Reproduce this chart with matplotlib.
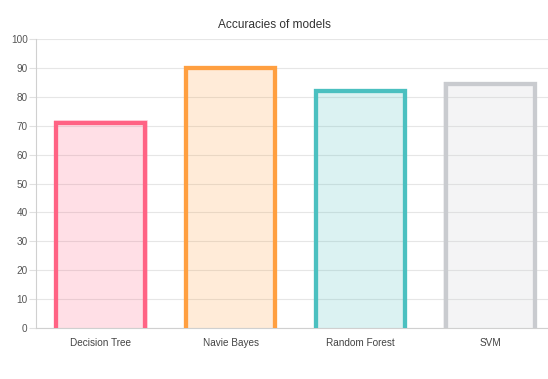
import matplotlib
matplotlib.use("Agg")
import matplotlib.pyplot as plt

models = ["Decision Tree", "Navie Bayes", "Random Forest", "SVM"]
accuracies = [71.8, 90.8, 82.8, 85.1]
border_colors = [(255, 99, 132), (255, 159, 64), (75, 192, 192), (201, 203, 207)]
y_ticks = [0, 10, 20, 30, 40, 50, 60, 70, 80, 90, 100]

plt.rcParams['font.family'] = ['Liberation Sans', 'DejaVu Sans']

W, H = 548, 379
fig = plt.figure(figsize=(W / 100, H / 100), dpi=100)
left, right, top, bottom = 36, 555, 39, 328
ax = fig.add_axes([left / W, 1 - bottom / H, (right - left) / W, (bottom - top) / H])

ax.set_xlim(-0.5, len(models) - 0.5)
ax.set_ylim(0, 100)

bw = 0.72
lw_px = 4.3
px_x = len(models) / (right - left)
px_y = 100 / (bottom - top)
for i, (v, c) in enumerate(zip(accuracies, border_colors)):
    rgb = tuple(x / 255 for x in c)
    ax.bar(i, v, width=bw, color=rgb + (0.2,), edgecolor='none', zorder=2)
    # border drawn inside the bar bounds (like Chart.js), bottom skipped
    hx = lw_px / 2 * px_x
    hy = lw_px / 2 * px_y
    x0 = i - bw / 2 + hx
    x1 = i + bw / 2 - hx
    ax.plot([x0, x0, x1, x1], [0, v - hy, v - hy, 0], color=rgb,
            linewidth=lw_px * 0.72, solid_joinstyle='miter', zorder=3)

ax.set_yticks(y_ticks)
ax.set_xticks(range(len(models)))
ax.set_xticklabels(models)
ax.grid(axis='y', color='#e6e6e6', linewidth=0.8, zorder=0)
ax.set_axisbelow(True)
for s in ['top', 'right']:
    ax.spines[s].set_visible(False)
for s in ['left', 'bottom']:
    ax.spines[s].set_color('#d0d0d0')
    ax.spines[s].set_linewidth(0.8)
ax.tick_params(axis='y', length=5, color='#e0e0e0', labelsize=7.2, labelcolor='#555555', pad=1)
ax.tick_params(axis='x', length=0, labelsize=7.2, labelcolor='#444444', pad=7)

fig.text(274 / W, 1 - 25 / H, "Accuracies of models", ha='center', va='center',
         fontsize=8.6, color='#333333')

fig.savefig("out.png", dpi=100)
